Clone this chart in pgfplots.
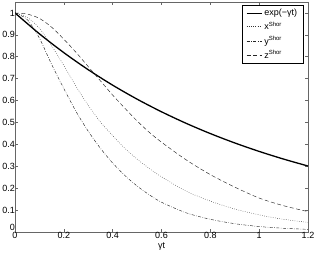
\documentclass[border=0pt]{standalone}
\usepackage{pgfplots}
\pgfplotsset{compat=1.18}
\usepackage{fontspec}
\setmainfont{Liberation Sans}
\begin{document}
\begin{tikzpicture}
\begin{axis}[
  scale only axis,
  width=293pt, height=230pt,
  xmin=0, xmax=1.2, ymin=0, ymax=1.05,
  xtick={0,0.2,0.4,0.6,0.8,1,1.2},
  ytick={0,0.1,0.2,0.3,0.4,0.5,0.6,0.7,0.8,0.9,1},
  xticklabels={0,0.2,0.4,0.6,0.8,1,1.2},
  yticklabels={\raisebox{1.5pt}[0pt][0pt]{0},0.1,0.2,0.3,0.4,0.5,0.6,0.7,0.8,0.9,1},
  tick align=inside,
  major tick length=3pt,
  axis line style={black!60, line width=0.8pt},
  every tick/.style={black!60, line width=0.6pt},
  tick label style={font=\fontsize{9}{10}\selectfont, inner sep=1pt},
  xticklabel style={yshift=1pt},
  yticklabel style={xshift=1pt},
  xlabel={γt},
  xlabel style={font=\fontsize{9}{10}\selectfont, inner sep=0pt, yshift=-3pt},
  legend style={at={(0.984,0.985)}, anchor=north east, draw=black, line width=0.5pt,
    font=\fontsize{9}{10}\selectfont, row sep=0.5pt, inner xsep=4pt, inner ysep=1.5pt},
  legend cell align=left,
  legend image code/.code={\draw[#1] (0pt,0pt) -- (15pt,0pt);},
]
\addplot[black, line width=1.3pt, smooth] coordinates {
(0,1)(0.1,0.9048)(0.2,0.8187)(0.3,0.7408)(0.4,0.6703)(0.5,0.6065)(0.6,0.5488)(0.7,0.4966)(0.8,0.4493)(0.9,0.4066)(1.0,0.3679)(1.1,0.3329)(1.2,0.3012)};
\addlegendentry{exp(−γt)}
\addplot[black!80, line width=0.45pt, dash pattern=on 0.6pt off 1.6pt, smooth] coordinates {
(0,1)(0.05,0.98)(0.1,0.93)(0.15,0.85)(0.2,0.76)(0.25,0.665)(0.3,0.578)(0.35,0.502)(0.4,0.44)(0.45,0.382)(0.5,0.333)(0.55,0.29)(0.6,0.252)(0.7,0.187)(0.8,0.141)(0.9,0.105)(1.0,0.078)(1.1,0.058)(1.2,0.044)};
\addlegendentry{x\textsuperscript{Shor}}
\addplot[black!85, line width=0.45pt, dash pattern=on 3pt off 1.5pt on 0.6pt off 1.5pt, smooth] coordinates {
(0,1)(0.05,0.97)(0.1,0.885)(0.15,0.765)(0.2,0.655)(0.25,0.55)(0.3,0.46)(0.35,0.382)(0.4,0.315)(0.45,0.258)(0.5,0.21)(0.55,0.17)(0.6,0.136)(0.7,0.088)(0.8,0.058)(0.9,0.038)(1.0,0.025)(1.1,0.017)(1.2,0.012)};
\addlegendentry{y\textsuperscript{Shor}}
\addplot[black!85, line width=0.45pt, dash pattern=on 4pt off 2.5pt, smooth] coordinates {
(0,1)(0.05,0.995)(0.1,0.975)(0.15,0.935)(0.2,0.88)(0.25,0.82)(0.3,0.755)(0.35,0.69)(0.4,0.625)(0.45,0.565)(0.5,0.507)(0.55,0.455)(0.6,0.41)(0.7,0.33)(0.8,0.262)(0.9,0.205)(1.0,0.155)(1.1,0.12)(1.2,0.093)};
\addlegendentry{z\textsuperscript{Shor}}
\end{axis}
\pgfresetboundingbox
\path (current axis.south west)+(-15pt,-23pt) coordinate (bbA);
\path (current axis.north east)+(8pt,2pt) coordinate (bbB);
\useasboundingbox (bbA) rectangle (bbB);
\end{tikzpicture}
\end{document}
